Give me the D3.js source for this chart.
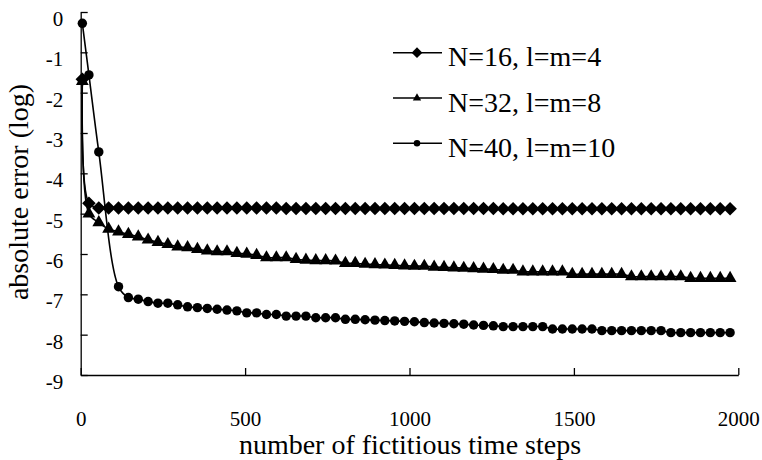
<!DOCTYPE html>
<html>
<head>
<meta charset="utf-8">
<script src="https://cdn.jsdelivr.net/npm/d3@7"></script>
<style>
  body { margin: 0; background: #fff; }
</style>
</head>
<body>
<div id="chart"></div>
<script>
// fictitious time steps of each sample
const steps = [5,
  25, 55, 85, 115, 145, 175, 205, 235, 265, 295,
  325, 355, 385, 415, 445, 475, 505, 535, 565, 595,
  625, 655, 685, 715, 745, 775, 805, 835, 865, 895,
  925, 955, 985, 1015, 1045, 1075, 1105, 1135, 1165, 1195,
  1225, 1255, 1285, 1315, 1345, 1375, 1405, 1435, 1465, 1495,
  1525, 1555, 1585, 1615, 1645, 1675, 1705, 1735, 1765, 1795,
  1825, 1855, 1885, 1915, 1945, 1975];

// log10 of absolute error (null = no sample shown)
const errN16 = [-1.67,
  -4.74, -4.86, -4.86, -4.86, -4.86, -4.86, -4.86, -4.86, -4.86, -4.86,
  -4.86, -4.86, -4.86, -4.86, -4.86, -4.86, -4.86, -4.86, -4.86, -4.86,
  -4.87, -4.87, -4.87, -4.87, -4.87, -4.87, -4.87, -4.87, -4.87, -4.87,
  -4.87, -4.87, -4.87, -4.87, -4.87, -4.87, -4.87, -4.87, -4.87, -4.87,
  -4.87, -4.87, -4.88, -4.88, -4.88, -4.88, -4.88, -4.88, -4.88, -4.88,
  -4.88, -4.88, -4.88, -4.88, -4.88, -4.88, -4.88, -4.88, -4.88, -4.88,
  -4.88, -4.88, -4.88, -4.88, -4.88, -4.88];

const errN32 = [-1.72,
  -5.00, -5.22, -5.38, -5.45, -5.51, -5.57, -5.65, -5.71, -5.76, -5.82,
  -5.84, -5.88, -5.92, -5.94, -5.94, -5.98, -6.00, -6.03, -6.09, -6.09,
  -6.09, -6.13, -6.15, -6.16, -6.16, -6.17, -6.23, -6.23, -6.25, -6.26,
  -6.27, -6.28, -6.29, -6.30, -6.30, -6.32, -6.33, -6.34, -6.35, -6.36,
  -6.37, -6.38, -6.40, -6.40, -6.44, -6.44, -6.44, -6.44, -6.44, -6.50,
  -6.50, -6.50, -6.50, -6.50, -6.50, -6.56, -6.56, -6.56, -6.56, -6.56,
  -6.56, -6.60, -6.60, -6.60, -6.60, -6.60];

const errN40 = [-0.28,
  -1.56, -3.47, null, -6.81, -7.08, -7.12, -7.18, -7.22, -7.22, -7.26,
  -7.31, -7.33, -7.35, -7.37, -7.39, -7.41, -7.46, -7.46, -7.50, -7.50,
  -7.54, -7.54, -7.54, -7.58, -7.58, -7.58, -7.62, -7.62, -7.63, -7.64,
  -7.65, -7.66, -7.67, -7.68, -7.70, -7.71, -7.72, -7.73, -7.74, -7.76,
  -7.77, -7.78, -7.80, -7.80, -7.80, -7.80, -7.80, -7.86, -7.86, -7.86,
  -7.86, -7.86, -7.90, -7.90, -7.90, -7.90, -7.90, -7.90, -7.90, -7.95,
  -7.95, -7.95, -7.95, -7.95, -7.95, -7.95];

const seriesNames = ['N=16, l=m=4', 'N=32, l=m=8', 'N=40, l=m=10'];
const xTicks = [0, 500, 1000, 1500, 2000];
const yTicks = [0, -1, -2, -3, -4, -5, -6, -7, -8, -9];

const serif = "'Liberation Serif'";

let width = 762, height = 460;

let svg = d3.select('#chart')
  .append('svg')
  .attr('width', width)
  .attr('height', height)
  .style('background', '#fff');

let x = d3.scaleLinear().domain([0, 2000]).range([80.7, 738.3]);
let y = d3.scaleLinear().domain([-9, 0]).range([375, 12]);

// axes, ticks point inwards like the original; plain hyphen and no thousands comma
let yAxis = svg.append('g')
  .attr('transform', 'translate(80.7,0)')
  .call(d3.axisLeft(y).tickValues(yTicks).tickFormat(d => String(d))
    .tickSizeInner(-7).tickSizeOuter(0).tickPadding(17.5));

let xAxis = svg.append('g')
  .attr('transform', 'translate(0,375)')
  .call(d3.axisBottom(x).tickValues(xTicks).tickFormat(d => String(d))
    .tickSizeInner(-7).tickSizeOuter(0).tickPadding(36));

[yAxis, xAxis].forEach(a => {
  a.attr('font-family', serif).attr('font-size', 21);
  a.selectAll('path, line').attr('stroke', '#000').attr('stroke-width', 1.3);
  a.selectAll('text').attr('fill', '#000');
});
yAxis.selectAll('text').attr('dy', '0.65em');

// axis titles
svg.append('text')
  .attr('x', 410)
  .attr('y', 454)
  .attr('text-anchor', 'middle')
  .style('font-family', serif)
  .style('font-size', '28px')
  .text('number of fictitious time steps');

svg.append('text')
  .attr('transform', 'translate(28,192) rotate(-90)')
  .attr('text-anchor', 'middle')
  .style('font-family', serif)
  .style('font-size', '28px')
  .text('absolute error (log)');

// markers
const markers = [
  { sym: d3.symbolSquare, size: 92, rot: 45, legendSize: 58 },
  { sym: d3.symbolTriangle, size: 72, rot: 0, legendSize: 30 },
  { sym: d3.symbolCircle, size: 70, rot: 0, legendSize: 34 }
];

const allErr = [errN16, errN32, errN40];

let line = d3.line()
  .x(d => x(d.step))
  .y(d => y(d.err))
  .curve(d3.curveCatmullRom.alpha(0.5));

allErr.forEach((errs, i) => {
  let pts = steps.map((s, j) => ({ step: s, err: errs[j] }))
    .filter(d => d.err != null);

  svg.append('path')
    .datum(pts)
    .attr('d', line)
    .attr('fill', 'none')
    .attr('stroke', '#000')
    .attr('stroke-width', 1.6);

  let m = markers[i];
  svg.append('g')
    .selectAll('path')
    .data(pts)
    .enter()
    .append('path')
    .attr('d', d3.symbol(m.sym, m.size))
    .attr('transform', d => `translate(${x(d.step)},${y(d.err)}) rotate(${m.rot})`)
    .attr('fill', '#000');
});

// legend
let legend = svg.append('g');

seriesNames.forEach((name, i) => {
  let ly = 52.7 + i * 45.3;
  let m = markers[i];

  legend.append('line')
    .attr('x1', 393)
    .attr('x2', 442)
    .attr('y1', ly)
    .attr('y2', ly)
    .attr('stroke', '#000')
    .attr('stroke-width', 1.6);

  legend.append('path')
    .attr('d', d3.symbol(m.sym, m.legendSize))
    .attr('transform', `translate(417,${ly}) rotate(${m.rot})`)
    .attr('fill', '#000');

  legend.append('text')
    .attr('x', 448)
    .attr('y', ly + 13.5)
    .style('font-family', serif)
    .style('font-size', '28px')
    .attr('fill', '#000')
    .text(name);
});
</script>
</body>
</html>
